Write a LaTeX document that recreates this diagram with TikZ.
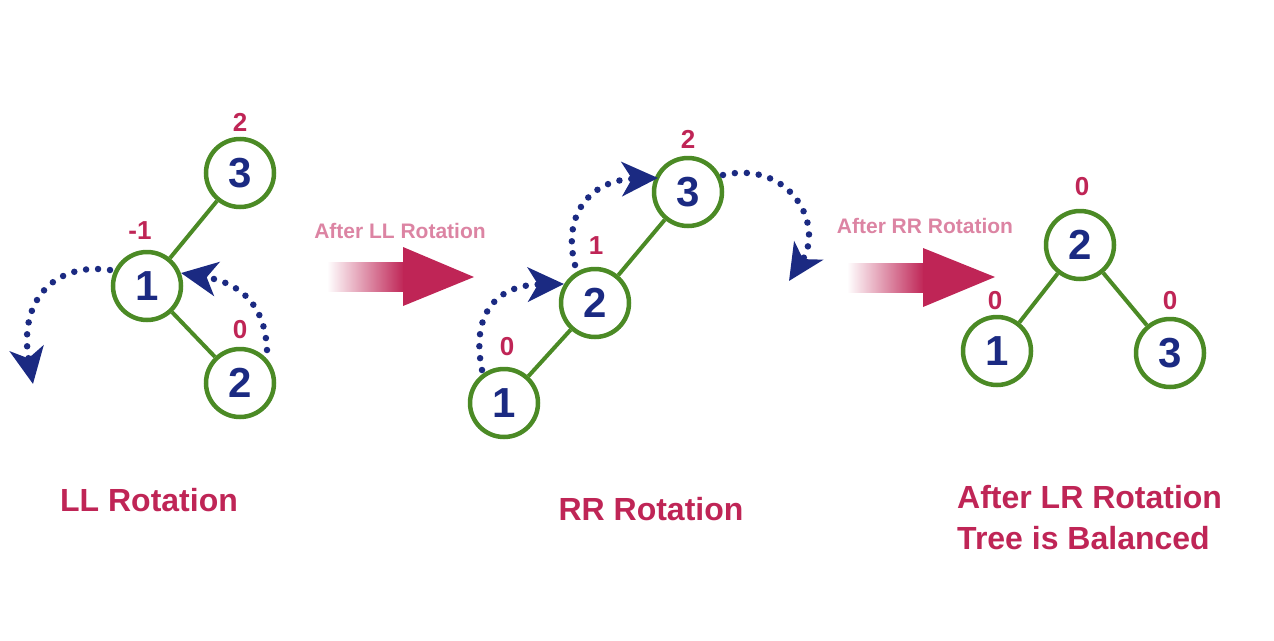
\documentclass[tikz,border=0pt]{standalone}
\usepackage{fontspec}
\setmainfont{Liberation Sans}
\usetikzlibrary{arrows.meta}
\definecolor{tgreen}{HTML}{4B8A25}
\definecolor{tnavy}{HTML}{1B2A82}
\definecolor{tcrim}{HTML}{BF2556}
\definecolor{tpink}{HTML}{DC84A3}
\begin{document}
\begin{tikzpicture}[x=1pt,y=-1pt,
 tnode/.style={circle,draw=tgreen,line width=4.5pt,minimum size=68pt,inner sep=0pt,text=tnavy,font=\fontsize{42}{42}\selectfont\bfseries},
 tedge/.style={draw=tgreen,line width=4pt},
 bal/.style={text=tcrim,inner sep=0pt,font=\fontsize{26}{26}\selectfont\bfseries},
 rot/.style={draw=tnavy,line width=6.5pt,line cap=round,dash pattern=on 0pt off 12pt,-{Stealth[length=36pt,width=34pt,inset=10pt]}},
 steplabel/.style={text=tpink,font=\fontsize{21}{21}\selectfont\bfseries,inner sep=0pt},
 caption/.style={text=tcrim,font=\fontsize{32}{41}\selectfont\bfseries,inner sep=0pt,align=left},
]
\useasboundingbox (0,0) rectangle (1274,640);

% ---------- left tree (LL) ----------
\node[tnode] (a3) at (240,173) {3};
\node[tnode] (a1) at (147,286) {1};
\node[tnode] (a2) at (240,383) {2};
\draw[tedge] (a3) -- (a1);
\draw[tedge] (a1) -- (a2);
\node[bal] (ba3) at (240,122) {2};
\node[bal] (ba1) at (140,231) {-1};
\node[bal] (ba2) at (240,330) {0};
\coordinate (r1s) at (110,270);
\coordinate (r1e) at (33,384);
\draw[rot] (r1s) .. controls (55,262) and (18,300) .. (r1e);
\coordinate (r2s) at (267,350);
\coordinate (r2e) at (181,273);
\draw[rot] (r2s) .. controls (265,300) and (235,282) .. (r2e);

% ---------- arrow 1 ----------
\node[steplabel] (s1) at (400,231) {After LL Rotation};
\shade[left color=white,right color=tcrim] (327,262) rectangle (404,291);
\fill[tcrim] (403,262) -- (403,247) -- (474,277) -- (403,306) -- (403,291) -- cycle;

% ---------- middle tree (RR) ----------
\node[tnode] (b3) at (688,192) {3};
\node[tnode] (b2) at (595,303) {2};
\node[tnode] (b1) at (504,403) {1};
\draw[tedge] (b3) -- (b2);
\draw[tedge] (b2) -- (b1);
\node[bal] (bb3) at (688,139) {2};
\node[bal] (bb2) at (596,246) {1};
\node[bal] (bb1) at (507,347) {0};
\coordinate (r3s) at (482,370);
\coordinate (r3e) at (564,284);
\draw[rot] (r3s) .. controls (470,310) and (500,285) .. (r3e);
\coordinate (r4s) at (575,265);
\coordinate (r4e) at (658,178);
\draw[rot] (r4s) .. controls (562,215) and (590,180) .. (r4e);
\coordinate (r5s) at (723,175);
\coordinate (r5e) at (789,281);
\draw[rot] (r5s) .. controls (790,160) and (825,225) .. (r5e);

% ---------- arrow 2 ----------
\node[steplabel] (s2) at (925,226) {After RR Rotation};
\shade[left color=white,right color=tcrim] (847,263) rectangle (924,292);
\fill[tcrim] (923,263) -- (923,248) -- (995,277) -- (923,307) -- (923,292) -- cycle;

% ---------- right tree (balanced) ----------
\node[tnode] (c2) at (1080,245) {2};
\node[tnode] (c1) at (997,351) {1};
\node[tnode] (c3) at (1170,353) {3};
\draw[tedge] (c2) -- (c1);
\draw[tedge] (c2) -- (c3);
\node[bal] (bc2) at (1082,187) {0};
\node[bal] (bc1) at (995,301) {0};
\node[bal] (bc3) at (1170,301) {0};

% ---------- captions ----------
\node[caption] (capA) at (149,500) {LL Rotation};
\node[caption] (capB) at (651,509) {RR Rotation};
\node[caption,anchor=west] (capC) at (957,518) {After LR Rotation\\Tree is Balanced};
\end{tikzpicture}
\end{document}
